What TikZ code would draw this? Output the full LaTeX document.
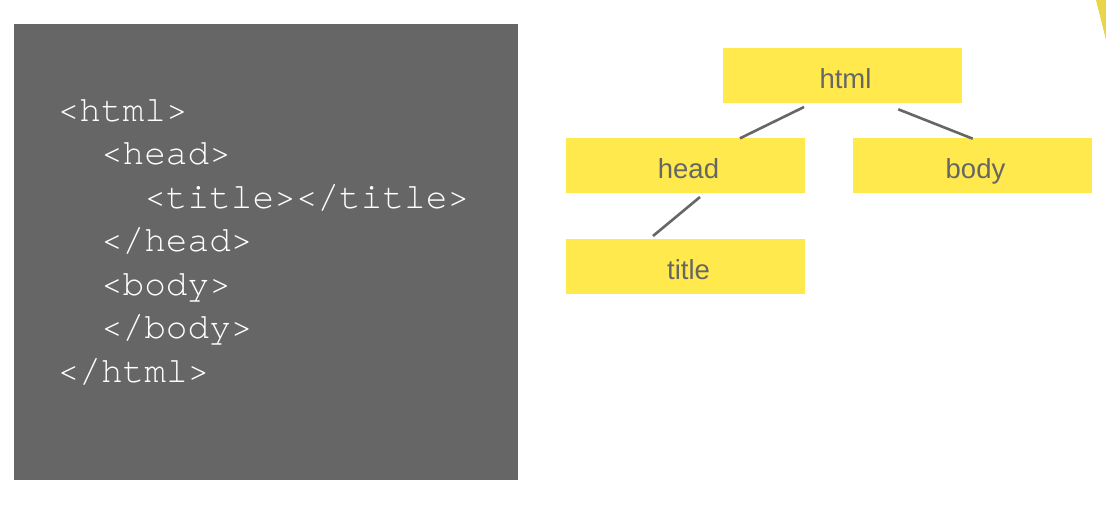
\documentclass[tikz,border=0pt]{standalone}
\usepackage{fontspec}
\setmainfont{Liberation Sans}
\newfontfamily\codefont{texgyrecursor-regular.otf}
\definecolor{panelgray}{HTML}{666666}
\definecolor{boxyellow}{HTML}{FFE94D}
\definecolor{wedgeyellow}{HTML}{E9D54A}
\definecolor{textgray}{HTML}{666666}
\begin{document}
\begin{tikzpicture}[x=1pt,y=-1pt,
  treebox/.style={rectangle, fill=boxyellow, draw=none, minimum width=239pt, minimum height=55pt, inner sep=0pt,
    text height=26.6pt, text depth=0pt, text=textgray, font=\fontsize{27.5}{30}\selectfont,
    execute at begin node={\hspace*{6pt}}},
  codeline/.style={anchor=base west, inner sep=0pt, text=white, font=\codefont\fontsize{36.1}{43}\selectfont},
  link/.style={draw=textgray, line width=2.6pt}]
\useasboundingbox (0,0) rectangle (1106,512);
\fill[white] (0,0) rectangle (1106,512);
% code panel
\fill[panelgray] (14,24) rectangle (518,480);
\node[codeline] (c1) at (57.5,121) {<html>};
\node[codeline] (c2) at (100.8,164.5) {<head>};
\node[codeline] (c3) at (144.1,208) {<title></title>};
\node[codeline] (c4) at (100.8,251.5) {</head>};
\node[codeline] (c5) at (100.8,295) {<body>};
\node[codeline] (c6) at (100.8,338.5) {</body>};
\node[codeline] (c7) at (57.5,382) {</html>};
% tree
\node[treebox] (html) at (842.5,75) {html};
\node[treebox] (head) at (685.5,165.5) {head};
\node[treebox] (body) at (972.5,165.5) {body};
\node[treebox] (title) at (685.5,266.5) {title};
\coordinate (hh1) at (804,107);
\coordinate (hh2) at (740,138.3);
\coordinate (hb1) at (898.3,109.3);
\coordinate (hb2) at (972.7,138.7);
\coordinate (ht1) at (700,197);
\coordinate (ht2) at (653,236);
\draw[link] (hh1) -- (hh2);
\draw[link] (hb1) -- (hb2);
\draw[link] (ht1) -- (ht2);
% corner wedge
\fill[wedgeyellow] (1096,0) -- (1106,0) -- (1106,40) -- cycle;
\end{tikzpicture}
\end{document}
